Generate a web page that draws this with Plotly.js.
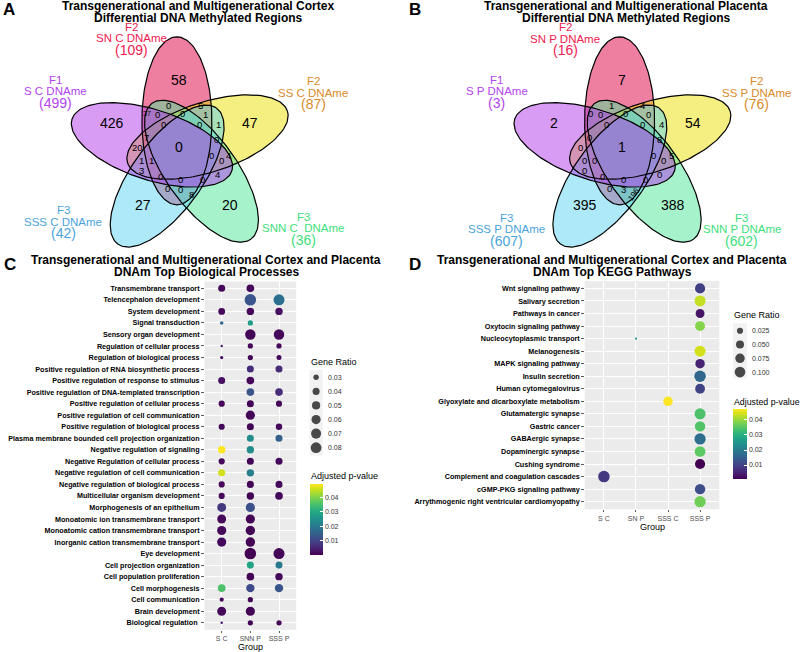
<!DOCTYPE html>
<html><head><meta charset="utf-8">
<script src="https://cdn.plot.ly/plotly-3.0.1.min.js"></script>
<style>html,body{margin:0;padding:0;background:#fff}#chart{width:800px;height:652px}</style>
</head><body><div id="chart"></div>
<script>
// ================= DATA =================
// Venn set order: S, SN, SS, SSS, SNN
const cortexSetNames = ["F1|S C DNAme", "F2|SN C DNAme", "F2|SS C DNAme", "F3|SSS C DNAme", "F3|SNN C  DNAme"];
const cortexSetTotals = [499, 109, 87, 42, 36];
const placentaSetNames = ["F1|S P DNAme", "F2|SN P DNAme", "F2|SS P DNAme", "F3|SSS P DNAme", "F3|SNN P DNAme"];
const placentaSetTotals = [3, 16, 76, 607, 602];
// region counts (same region order for both diagrams)
const cortexRegionCounts = [58, 426, 47, 27, 20, 0, 37, 0, 0, 5, 0, 1, 0, 0, 1, 7, 0, 20, 1, 1, 0, 0, 4, 3, 0, 0, 0, 4, 0, 0, 8];
const placentaRegionCounts = [7, 2, 54, 395, 388, 1, 0, 0, 1, 4, 0, 0, 0, 0, 4, 0, 8, 0, 0, 0, 0, 0, 5, 0, 0, 0, 0, 0, 0, 3, 196];

// Biological processes (top to bottom)
const bpTerms = ["Transmembrane transport", "Telencephalon development", "System development", "Signal transduction",
  "Sensory organ development", "Regulation of cellular process", "Regulation of biological process",
  "Positive regulation of RNA biosynthetic process", "Positive regulation of response to stimulus",
  "Positive regulation of DNA-templated transcription", "Positive regulation of cellular process",
  "Positive regulation of cell communication", "Positive regulation of biological process",
  "Plasma membrane bounded cell projection organization", "Negative regulation of signaling",
  "Negative Regulation of cellular process", "Negative regulation of cell communication",
  "Negative regulation of biological process", "Multicellular organism development",
  "Morphogenesis of an epithelium", "Monoatomic ion transmembrane transport",
  "Monoatomic cation transmembrane transport", "Inorganic cation transmembrane transport", "Eye development",
  "Cell projection organization", "Cell population proliferation", "Cell morphogenesis", "Cell communication",
  "Brain development", "Biological regulation "];
const bpGroups = ["S C", "SNN P", "SSS P"];
const bpRatioSC   = [0.040, null, 0.038, 0.0235, null, 0.0224, 0.023, null, 0.040, null, 0.034, null, 0.034, null, 0.043, 0.034, 0.040, 0.034, 0.034, 0.057, 0.057, 0.060, 0.060, null, null, null, 0.045, 0.025, 0.057, 0.0224];
const bpPadjSC    = [0.001, null, 0.001, 0.017, null, 0.002, 0.002, null, 0.002, null, 0.001, null, 0.001, null, 0.0493, 0.001, 0.046, 0.001, 0.001, 0.008, 0.001, 0.001, 0.001, null, null, null, 0.0355, 0.001, 0.001, 0.002];
const bpRatioSNNP = [0.045, 0.090, 0.043, 0.029, 0.075, 0.029, 0.029, 0.040, 0.045, 0.045, 0.040, 0.060, 0.040, 0.040, 0.043, 0.040, 0.043, 0.040, 0.043, 0.060, 0.060, 0.063, 0.063, 0.090, 0.040, 0.045, 0.051, 0.029, 0.060, 0.029];
const bpPadjSNNP  = [0.001, 0.013, 0.001, 0.027, 0.0005, 0.0005, 0.0005, 0.006, 0.001, 0.013, 0.0005, 0.0005, 0.0005, 0.024, 0.024, 0.0005, 0.021, 0.0005, 0.0005, 0.012, 0.0005, 0.0005, 0.0005, 0.00001, 0.0286, 0.0005, 0.011, 0.0005, 0.0005, 0.0005];
const bpRatioSSSP = [null, 0.083, 0.043, null, 0.075, 0.029, 0.028, 0.040, null, 0.045, 0.034, null, 0.036, 0.040, null, 0.040, null, 0.040, 0.045, null, null, null, null, 0.083, 0.040, 0.043, 0.051, null, null, 0.029];
const bpPadjSSSP  = [null, 0.018, 0.002, null, 0.001, 0.001, 0.001, 0.006, null, 0.006, 0.001, null, 0.001, 0.015, null, 0.001, null, 0.001, 0.001, null, null, null, null, 0.0003, 0.020, 0.001, 0.013, null, null, 0.001];
const bpSizeBreaks = [0.03, 0.04, 0.05, 0.06, 0.07, 0.08];

// KEGG pathways (top to bottom)
const keggTerms = ["Wnt signaling pathway", "Salivary secretion", "Pathways in cancer", "Oxytocin signaling pathway",
  "Nucleocytoplasmic transport", "Melanogenesis", "MAPK signaling pathway", "Insulin secretion",
  "Human cytomegalovirus", "Glyoxylate and dicarboxylate metabolism", "Glutamatergic synapse", "Gastric cancer",
  "GABAergic synapse", "Dopaminergic synapse", "Cushing syndrome", "Complement and coagulation cascades",
  "cGMP-PKG signaling pathway", "Arrythmogenic right ventricular cardiomyopathy"];
const keggGroups = ["S C", "SN P", "SSS C", "SSS P"];
const keggGroup = ["SSS P", "SSS P", "SSS P", "SSS P", "SN P", "SSS P", "SSS P", "SSS P", "SSS P", "SSS C", "SSS P", "SSS P", "SSS P", "SSS P", "SSS P", "S C", "SSS P", "SSS P"];
const keggRatio = [0.088, 0.109, 0.064, 0.082, 0.0043, 0.109, 0.075, 0.120, 0.082, 0.075, 0.109, 0.094, 0.115, 0.102, 0.088, 0.120, 0.094, 0.115];
const keggPadj  = [0.009, 0.043, 0.0028, 0.0385, 0.0235, 0.044, 0.005, 0.0158, 0.0098, 0.0471, 0.034, 0.0345, 0.017, 0.0355, 0.0005, 0.008, 0.0115, 0.037];
const keggSizeBreaks = [0.025, 0.05, 0.075, 0.1];
const padjTicks = [0.01, 0.02, 0.03, 0.04];

// ================= LAYOUT CONSTANTS =================
const FONT = "Liberation Sans, Arial, Helvetica, sans-serif";
const W = 800, H = 652;
const px = x => x / W, py = y => 1 - y / H;

const VENN = {d: 29.5, a: 35, b: 84, axis0: 90, offset0: 98, shift: [2, 3]};
const setRotIndex = [1, 0, 4, 2, 3];          // S, SN, SS, SSS, SNN
const drawOrder = [1, 2, 4, 3, 0];            // SN, SS, SNN, SSS, S (last on top)
const vennFill = ['rgba(177,57,235,0.5)', 'rgba(221,0,65,0.5)', 'rgba(235,221,3,0.5)', 'rgba(91,211,243,0.5)', 'rgba(77,229,151,0.5)'];
const vennText = ['#B344F0', '#F0204F', '#D98B2B', '#4AA3DA', '#3EE07C'];
const regionOffsets = [[0,-67],[-67.3,-24],[71,-24],[-36.3,58],[51,58],[0,0],[-31.7,-33.5],[-21.7,-32.7],[-10.7,-41],[21,-41],[3.5,-33.5],[26.7,-32],[-15.7,-23],[20.3,-23],[39.3,-23],[-32.3,-9.7],[37.5,-8],[-41.7,0.3],[-37.3,13],[-27.5,13],[32,9],[42,13],[49.5,9],[-37.3,23.7],[-19,29.8],[1.7,32],[23.5,32],[38,27],[-12,41.5],[1.3,42.5],[12,47.5]];
const narrowRegions = [6];
const cortexCenter = [179, 147], placentaCenter = [621.7, 147];
const cortexLabelPos = [[55,79.5],[131.7,26.5],[313,81.2],[63.3,210.2],[303.3,216.8]];
const placentaLabelPos = [[496.7,79.5],[565,27],[756.7,81.2],[506.7,217.8],[741.7,217.8]];

const traces = [];
const annotations = [];
const shapes = [];

function ellipse(cx, cy, a, b, angDeg) {
  const xs = [], ys = [], t = angDeg * Math.PI / 180;
  for (let i = 0; i <= 160; i++) {
    const s = 2 * Math.PI * i / 160, ex = b * Math.cos(s), ey = a * Math.sin(s);
    xs.push(cx + ex * Math.cos(t) - ey * Math.sin(t));
    ys.push(cy - (ex * Math.sin(t) + ey * Math.cos(t)));
  }
  return {xs, ys};
}
function ann(x, y, text, size, color, extra) {
  annotations.push(Object.assign({xref: 'paper', yref: 'paper', x: px(x), y: py(y), text: text, showarrow: false,
    xanchor: 'center', yanchor: 'middle', borderpad: 0, font: {family: FONT, size: size, color: color}}, extra || {}));
}

function drawVenn(center, counts, names, totals, labelPos) {
  const [cx, cy] = center;
  const gx = cx + VENN.shift[0], gy = cy + VENN.shift[1];
  const geo = setRotIndex.map(k => {
    const off = (VENN.offset0 + 72 * k) * Math.PI / 180;
    return ellipse(gx + VENN.d * Math.cos(off), gy - VENN.d * Math.sin(off), VENN.a, VENN.b, VENN.axis0 + 72 * k);
  });
  drawOrder.forEach(j => traces.push({type: 'scatter', mode: 'lines', x: geo[j].xs, y: geo[j].ys, xaxis: 'x3', yaxis: 'y3',
    fill: 'toself', fillcolor: vennFill[j], line: {width: 0}, hoverinfo: 'skip', showlegend: false}));
  geo.forEach(g => traces.push({type: 'scatter', mode: 'lines', x: g.xs, y: g.ys, xaxis: 'x3', yaxis: 'y3',
    line: {color: '#000', width: 1.2}, hoverinfo: 'skip', showlegend: false}));
  counts.forEach((v, i) => {
    const t = String(v);
    let size = i <= 5 ? 14 : 9.5, extra = {};
    if (i > 5 && t.length >= 3) { size = 8; extra.textangle = -55; }
    else if (i > 5 && t.length === 2 && narrowRegions.includes(i)) size = 7;
    ann(cx + regionOffsets[i][0], cy + regionOffsets[i][1], t, size, '#000', extra);
  });
  names.forEach((n, j) => {
    const [l1, l2] = n.split('|');
    const [x, y] = labelPos[j];
    ann(x, y, l1, 11.5, vennText[j]);
    ann(x, y + 11.6, l2, 11.5, vennText[j]);
    ann(x, y + 23, '(' + totals[j] + ')', 14, vennText[j]);
  });
}
drawVenn(cortexCenter, cortexRegionCounts, cortexSetNames, cortexSetTotals, cortexLabelPos);
drawVenn(placentaCenter, placentaRegionCounts, placentaSetNames, placentaSetTotals, placentaLabelPos);

// ---------- size scales ----------
function sizeScale(vals, dmin, dmax) {
  const lo = Math.min(...vals), hi = Math.max(...vals);
  return v => dmin + (dmax - dmin) * Math.sqrt(Math.max(0, (v - lo) / (hi - lo)));
}

// ---------- Panel C ----------
const bpX = [], bpY = [], bpR = [], bpP = [];
[[bpRatioSC, bpPadjSC], [bpRatioSNNP, bpPadjSNNP], [bpRatioSSSP, bpPadjSSSP]].forEach(([r, p], g) => {
  r.forEach((v, i) => { if (v !== null) { bpX.push(bpGroups[g]); bpY.push(bpTerms[i]); bpR.push(v); bpP.push(p[i]); } });
});
const bpSize = sizeScale(bpR, 2.4, 11.5);
function cbar(x, yc, len, thick) {
  return {x: px(x), xanchor: 'left', y: py(yc), yanchor: 'middle', len: len, lenmode: 'pixels', thickness: thick,
    thicknessmode: 'pixels', xpad: 0, ypad: 0, outlinewidth: 0, tickvals: padjTicks, ticktext: padjTicks.map(String),
    ticks: 'inside', ticklen: 3, tickcolor: '#fff', tickwidth: 1, tickfont: {family: FONT, size: 7, color: '#333'},
    title: {text: ''}};
}
traces.push({type: 'scatter', mode: 'markers', x: bpX, y: bpY, xaxis: 'x', yaxis: 'y', showlegend: false, hoverinfo: 'skip',
  marker: {size: bpR.map(bpSize), color: bpP, colorscale: 'Viridis', cmin: Math.min(...bpP), cmax: Math.max(...bpP),
    line: {width: 0}, opacity: 1, colorbar: cbar(310, 519.5, 71, 13)}});

// ---------- Panel D ----------
const keggSize = sizeScale(keggRatio, 2.2, 11.5);
traces.push({type: 'scatter', mode: 'markers', x: keggGroup, y: keggTerms, xaxis: 'x2', yaxis: 'y2', showlegend: false, hoverinfo: 'skip',
  marker: {size: keggRatio.map(keggSize), color: keggPadj, colorscale: 'Viridis', cmin: Math.min(...keggPadj), cmax: Math.max(...keggPadj),
    line: {width: 0}, opacity: 1, colorbar: cbar(732.7, 444.3, 70, 14)}});

// ---------- size legends ----------
shapes.push({type: 'rect', xref: 'paper', yref: 'paper', x0: px(309.5), x1: px(322.7), y0: py(370), y1: py(455.5), fillcolor: '#F2F2F2', line: {width: 0}, layer: 'below'});
shapes.push({type: 'rect', xref: 'paper', yref: 'paper', x0: px(733), x1: px(747), y0: py(323.3), y1: py(378.5), fillcolor: '#F2F2F2', line: {width: 0}, layer: 'below'});
traces.push({type: 'scatter', mode: 'markers', xaxis: 'x3', yaxis: 'y3', hoverinfo: 'skip', showlegend: false,
  x: bpSizeBreaks.map(() => 316.1), y: bpSizeBreaks.map((b, i) => 377.3 + 14.08 * i),
  marker: {size: bpSizeBreaks.map(bpSize), color: '#000', line: {width: 0}}});
bpSizeBreaks.forEach((b, i) => ann(326.5, 377.3 + 14.08 * i, b.toFixed(2), 7, '#333', {xanchor: 'left'}));
traces.push({type: 'scatter', mode: 'markers', xaxis: 'x3', yaxis: 'y3', hoverinfo: 'skip', showlegend: false,
  x: keggSizeBreaks.map(() => 740), y: keggSizeBreaks.map((b, i) => 330.7 + 13.8 * i),
  marker: {size: keggSizeBreaks.map(keggSize), color: '#000', line: {width: 0}}});
keggSizeBreaks.forEach((b, i) => ann(751, 330.7 + 13.8 * i, b.toFixed(3), 7, '#333', {xanchor: 'left'}));
ann(309.5, 361.7, 'Gene Ratio', 9, '#000', {xanchor: 'left'});
ann(309.5, 476, 'Adjusted p-value', 9, '#000', {xanchor: 'left'});
ann(733, 315, 'Gene Ratio', 9, '#000', {xanchor: 'left'});
ann(733, 401.7, 'Adjusted p-value', 8.8, '#000', {xanchor: 'left'});

// panel backgrounds
[['x', 'y'], ['x2', 'y2']].forEach(([xa, ya]) => shapes.push({type: 'rect', xref: xa + ' domain', yref: ya + ' domain',
  x0: 0, x1: 1, y0: 0, y1: 1, fillcolor: '#EBEBEB', line: {width: 0}, layer: 'below'}));

// titles
ann(198, 6.5, '<b>Transgenerational and Multigenerational Cortex</b>', 12, '#000');
ann(198, 18, '<b>Differential DNA Methylated Regions</b>', 12, '#000');
ann(626, 6.5, '<b>Transgenerational and Multigenerational Placenta</b>', 12, '#000');
ann(626, 18, '<b>Differential DNA Methylated Regions</b>', 12, '#000');
ann(206, 260, '<b>Transgenerational and Multigenerational Cortex and Placenta</b>', 12, '#000');
ann(206, 272, '<b>DNAm Top Biological Processes</b>', 12, '#000');
ann(612, 260, '<b>Transgenerational and Multigenerational Cortex and Placenta</b>', 12, '#000');
ann(612, 272, '<b>DNAm Top KEGG Pathways</b>', 12, '#000');
ann(8.5, 9.5, '<b>A</b>', 17, '#000');
ann(415, 9.5, '<b>B</b>', 17, '#000');
ann(10, 264, '<b>C</b>', 17, '#000');
ann(415, 264, '<b>D</b>', 17, '#000');
ann(250.3, 646.5, 'Group', 9, '#000');
ann(652, 526.5, 'Group', 9, '#000');

function catX(dom, cats) {
  return {domain: dom, type: 'category', categoryorder: 'array', categoryarray: cats, range: [-0.6, cats.length - 0.4],
    showgrid: true, gridcolor: '#fff', gridwidth: 1, zeroline: false, showline: false, ticks: 'outside', ticklen: 2,
    tickwidth: 0.8, tickcolor: '#333', tickfont: {family: FONT, size: 7, color: '#4D4D4D'}, fixedrange: true, automargin: false};
}
function catY(dom, cats) {
  return {domain: dom, type: 'category', categoryorder: 'array', categoryarray: cats, range: [cats.length - 0.4, -0.6],
    showgrid: true, gridcolor: '#fff', gridwidth: 1, zeroline: false, showline: false, ticks: 'outside', ticklen: 2.5,
    tickwidth: 0.8, tickcolor: '#333', tickfont: {family: FONT, size: 7.2, color: '#000', weight: 'bold'}, fixedrange: true, automargin: false};
}

const layout = {
  width: W, height: H, margin: {l: 0, r: 0, t: 0, b: 0}, paper_bgcolor: '#fff', plot_bgcolor: 'rgba(0,0,0,0)',
  showlegend: false, font: {family: FONT},
  xaxis: Object.assign(catX([px(204.5), px(296.2)], bpGroups), {anchor: 'y'}),
  yaxis: Object.assign(catY([py(629.7), py(281.4)], bpTerms), {anchor: 'x'}),
  xaxis2: Object.assign(catX([px(584.7), px(719.3)], keggGroups), {anchor: 'y2'}),
  yaxis2: Object.assign(catY([py(509.2), py(280.9)], keggTerms), {anchor: 'x2'}),
  xaxis3: {domain: [0, 1], range: [0, W], visible: false, fixedrange: true, anchor: 'y3'},
  yaxis3: {domain: [0, 1], range: [H, 0], visible: false, fixedrange: true, anchor: 'x3'},
  annotations: annotations, shapes: shapes
};
Plotly.newPlot('chart', traces, layout, {staticPlot: true, displayModeBar: false});
</script></body></html>
